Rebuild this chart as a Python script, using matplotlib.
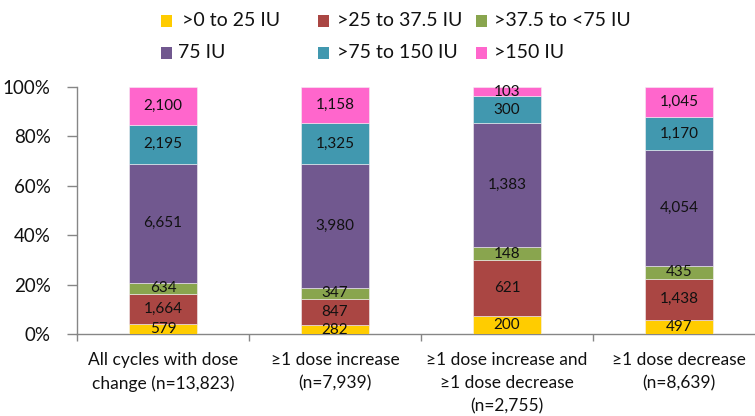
import matplotlib
matplotlib.use("Agg")
import matplotlib.pyplot as plt
import numpy as np
from matplotlib.patches import Rectangle
from matplotlib.ticker import FixedLocator, PercentFormatter

plt.rcParams['font.family'] = ['Lato', 'DejaVu Sans']

categories = [
    "All cycles with dose\nchange (n=13,823)",
    "\u22651 dose increase\n(n=7,939)",
    "\u22651 dose increase and\n\u22651 dose decrease\n(n=2,755)",
    "\u22651 dose decrease\n(n=8,639)",
]
series_names = [">0 to 25 IU", ">25 to 37.5 IU", ">37.5 to <75 IU",
                "75 IU", ">75 to 150 IU", ">150 IU"]
counts_0_25 = [579, 282, 200, 497]
counts_25_375 = [1664, 847, 621, 1438]
counts_375_75 = [634, 347, 148, 435]
counts_75 = [6651, 3980, 1383, 4054]
counts_75_150 = [2195, 1325, 300, 1170]
counts_150 = [2100, 1158, 103, 1045]
colors = ["#FFCC00", "#AA4643", "#89A54E", "#71588F", "#4198AF", "#FF66CC"]

series = [counts_0_25, counts_25_375, counts_375_75, counts_75, counts_75_150, counts_150]
data = np.array(series, dtype=float)
totals = data.sum(axis=0)
shares = data / totals * 100

W, H = 755, 416
fig = plt.figure(figsize=(W / 100, H / 100), dpi=100)
ax_left, ax_right = 77, 765
ax_top, ax_bottom = 87, 334
ax = fig.add_axes([ax_left / W, (H - ax_bottom) / H,
                   (ax_right - ax_left) / W, (ax_bottom - ax_top) / H])

x = np.arange(len(categories))
bottom = np.zeros(len(categories))
for vals, share, col in zip(series, shares, colors):
    ax.bar(x, share, width=0.4, bottom=bottom, color=col,
           edgecolor="#f4f0f4", linewidth=0.4, zorder=3)
    for xi, b, s, v in zip(x, bottom, share, vals):
        ax.text(xi, b + s / 2, f"{v:,}", ha="center", va="center",
                fontsize=11, color="#111111", zorder=4)
    bottom += share

ax.set_xlim(-0.5, len(categories) - 0.5)
ax.set_ylim(0, 100)
ax.yaxis.set_major_locator(FixedLocator([0, 20, 40, 60, 80, 100]))
ax.yaxis.set_major_formatter(PercentFormatter(decimals=0))
ax.set_xticks(x)
ax.set_xticklabels(categories, fontsize=12.5, linespacing=1.55)
ax.set_xticks(np.arange(-0.5, len(categories), 1), minor=True)
ax.tick_params(axis="x", which="major", length=0, pad=13, colors="#111111")
ax.tick_params(axis="x", which="minor", length=5, width=1, color="#868686")
ax.tick_params(axis="y", length=7, width=1, color="#868686", labelsize=13.5,
               labelcolor="#111111", pad=12)
for side in ("top", "right"):
    ax.spines[side].set_visible(False)
for side in ("left", "bottom"):
    ax.spines[side].set_color("#868686")
    ax.spines[side].set_linewidth(1)

# legend: two rows of three entries
square_x = [166, 323, 482]
text_x = [[182, 337, 494], [178, 337, 494]]
row_y = [21, 53]
sq = 11
for i, (name, col) in enumerate(zip(series_names, colors)):
    r, c = divmod(i, 3)
    px, py = square_x[c], row_y[r]
    fig.patches.append(Rectangle(((px - sq / 2) / W, (H - py - sq / 2) / H),
                                 sq / W, sq / H, transform=fig.transFigure,
                                 facecolor=col, edgecolor="none"))
    fig.text(text_x[r][c] / W, (H - py) / H, name, ha="left", va="center",
             fontsize=14, color="#111111")

fig.savefig("out.png", dpi=100)
